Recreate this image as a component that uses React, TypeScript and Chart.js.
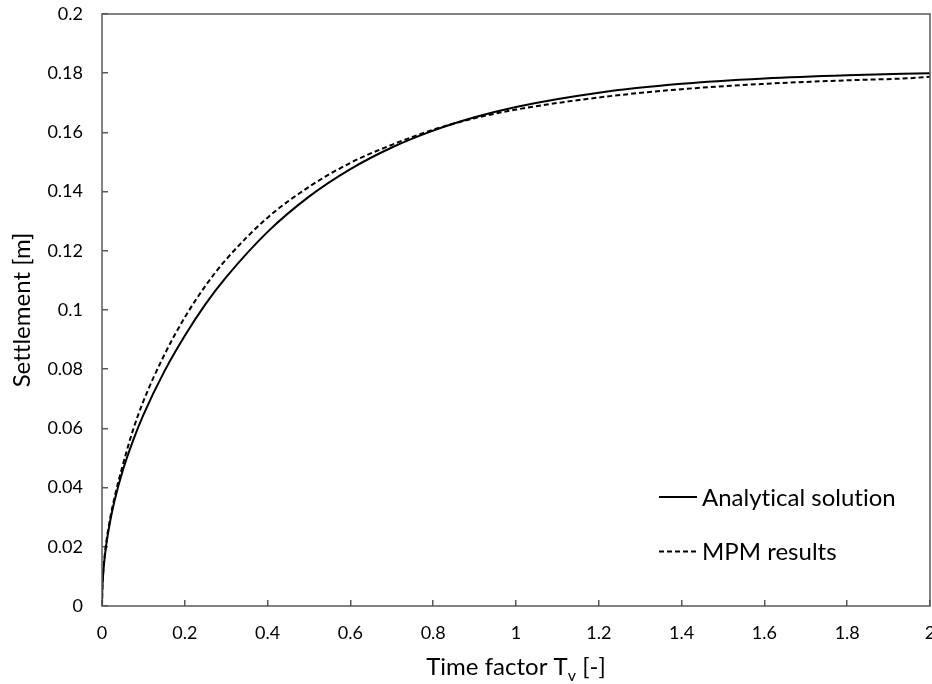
import React, { useEffect, useRef } from "react";
import { Chart, registerables } from "chart.js";

Chart.register(...registerables);

const FONT = "Lato, 'Open Sans', sans-serif";

// Time factor values (x) and settlement values (y)
const tvAnalytical = [0, 0.0005, 0.001, 0.003, 0.005, 0.01, 0.02, 0.03, 0.05, 0.075, 0.1, 0.15, 0.2, 0.25, 0.3, 0.4, 0.5, 0.6, 0.7, 0.8, 0.9, 1.0, 1.2, 1.4, 1.6, 1.8, 2.0];
const settlementAnalytical = [0, 0.0046, 0.0065, 0.0112, 0.0144, 0.0204, 0.0289, 0.0354, 0.0457, 0.0559, 0.0646, 0.0791, 0.0913, 0.102, 0.1111, 0.1264, 0.1383, 0.1476, 0.1549, 0.1606, 0.1651, 0.1686, 0.1734, 0.1764, 0.1782, 0.1793, 0.18];

const tvMpm = [0, 0.001, 0.003, 0.005, 0.01, 0.02, 0.03, 0.05, 0.075, 0.1, 0.15, 0.2, 0.25, 0.3, 0.4, 0.5, 0.6, 0.7, 0.8, 0.9, 1.0, 1.2, 1.4, 1.6, 1.8, 1.95, 2.0];
const settlementMpm = [0, 0.0068, 0.0116, 0.015, 0.0212, 0.0298, 0.0365, 0.0475, 0.0595, 0.0692, 0.0847, 0.0975, 0.1082, 0.1171, 0.1312, 0.1416, 0.1497, 0.1558, 0.1609, 0.1648, 0.1677, 0.1718, 0.1746, 0.1764, 0.1776, 0.1783, 0.1788];

const seriesLabels = ["Analytical solution", "MPM results"];
const xTitleMain = "Time factor T";
const xTitleSub = "v";
const xTitleEnd = " [-]";
const yTitle = "Settlement [m]";

const AXIS_COLOR = "#595959";

const fmt = (v: number) => String(Number(Number(v).toFixed(3)));

const framePlugin = {
  id: "frame",
  afterDraw(chart: any) {
    const { ctx, chartArea } = chart;
    const { left, right, top, bottom } = chartArea;
    ctx.save();
    ctx.strokeStyle = AXIS_COLOR;
    ctx.lineWidth = 1.5;
    ctx.strokeRect(left, top, right - left, bottom - top);

    try {
      (ctx as any).letterSpacing = "0.01px";
    } catch (e) {}

    // axis titles
    ctx.fillStyle = "#000";
    ctx.textBaseline = "alphabetic";
    // y title
    ctx.save();
    ctx.font = `24px ${FONT}`;
    ctx.translate(30, (top + bottom) / 2);
    ctx.rotate(-Math.PI / 2);
    ctx.textAlign = "center";
    ctx.fillText(yTitle, 0, 0);
    ctx.restore();
    // x title with subscript
    ctx.font = `24px ${FONT}`;
    const wMain = ctx.measureText(xTitleMain).width;
    const wEnd = ctx.measureText(xTitleEnd).width;
    ctx.font = `16px ${FONT}`;
    const wSub = ctx.measureText(xTitleSub).width;
    const total = wMain + wSub + wEnd;
    const cx = (left + right) / 2;
    const x0 = cx - total / 2;
    const by = 675;
    ctx.textAlign = "left";
    ctx.font = `24px ${FONT}`;
    ctx.fillText(xTitleMain, x0, by);
    ctx.font = `16px ${FONT}`;
    ctx.fillText(xTitleSub, x0 + wMain, by + 6);
    ctx.font = `24px ${FONT}`;
    ctx.fillText(xTitleEnd, x0 + wMain + wSub, by);

    // legend
    const ds = chart.data.datasets;
    ds.forEach((d: any, i: number) => {
      const y = bottom - 109 + i * 54.5;
      const lx0 = right - 271;
      const lx1 = right - 233;
      ctx.save();
      ctx.strokeStyle = d.borderColor;
      ctx.lineWidth = 2;
      ctx.setLineDash(d.borderDash || []);
      ctx.beginPath();
      ctx.moveTo(lx0, y);
      ctx.lineTo(lx1, y);
      ctx.stroke();
      ctx.restore();
      ctx.font = `24px ${FONT}`;
      ctx.textBaseline = "middle";
      ctx.textAlign = "left";
      ctx.fillStyle = "#000";
      ctx.fillText(d.label, right - 228, y + 1);
    });
    ctx.restore();
  },
};

export default function App() {
  const ref = useRef<HTMLCanvasElement | null>(null);

  useEffect(() => {
    document.body.style.margin = "0";
    const canvas = ref.current;
    if (!canvas) return;
    const chart = new Chart(canvas, {
      type: "line",
      data: {
        datasets: [
          {
            label: seriesLabels[0],
            data: tvAnalytical.map((x, i) => ({ x, y: settlementAnalytical[i] })),
            borderColor: "#000",
            borderWidth: 2,
            pointRadius: 0,
            fill: false,
            cubicInterpolationMode: "monotone",
          },
          {
            label: seriesLabels[1],
            data: tvMpm.map((x, i) => ({ x, y: settlementMpm[i] })),
            borderColor: "#000",
            borderWidth: 2,
            borderDash: [5, 3],
            pointRadius: 0,
            fill: false,
            cubicInterpolationMode: "monotone",
          },
        ],
      },
      options: {
        responsive: false,
        animation: false,
        devicePixelRatio: 1,
        layout: { padding: { top: 14, right: 2, left: 0, bottom: 0 } },
        plugins: { legend: { display: false }, tooltip: { enabled: false } },
        scales: {
          x: {
            type: "linear",
            min: 0,
            max: 2,
            border: { display: false },
            grid: {
              drawOnChartArea: false,
              drawTicks: true,
              tickLength: -6,
              color: AXIS_COLOR,
              lineWidth: 1.5,
            },
            ticks: {
              stepSize: 0.2,
              padding: 22,
              color: "#000",
              font: { family: FONT, size: 18 },
              maxRotation: 0,
              autoSkip: false,
              callback: (v: any) => fmt(v),
            },
            afterFit: (s: any) => {
              s.height = 78;
              s.paddingLeft = 0;
              s.paddingRight = 0;
            },
          },
          y: {
            type: "linear",
            min: 0,
            max: 0.2,
            border: { display: false },
            grid: {
              drawOnChartArea: false,
              drawTicks: true,
              tickLength: -6,
              color: AXIS_COLOR,
              lineWidth: 1.5,
            },
            ticks: {
              stepSize: 0.02,
              padding: 25,
              color: "#000",
              font: { family: FONT, size: 18 },
              autoSkip: false,
              callback: (v: any) => fmt(v),
            },
            afterFit: (s: any) => {
              s.width = 102;
              s.paddingTop = 0;
              s.paddingBottom = 0;
            },
          },
        },
      },
      plugins: [framePlugin],
    });
    return () => chart.destroy();
  }, []);

  return (
    <div style={{ width: 932, height: 684, background: "#fff" }}>
      <canvas ref={ref} width={932} height={684} style={{ display: "block" }} />
    </div>
  );
}
